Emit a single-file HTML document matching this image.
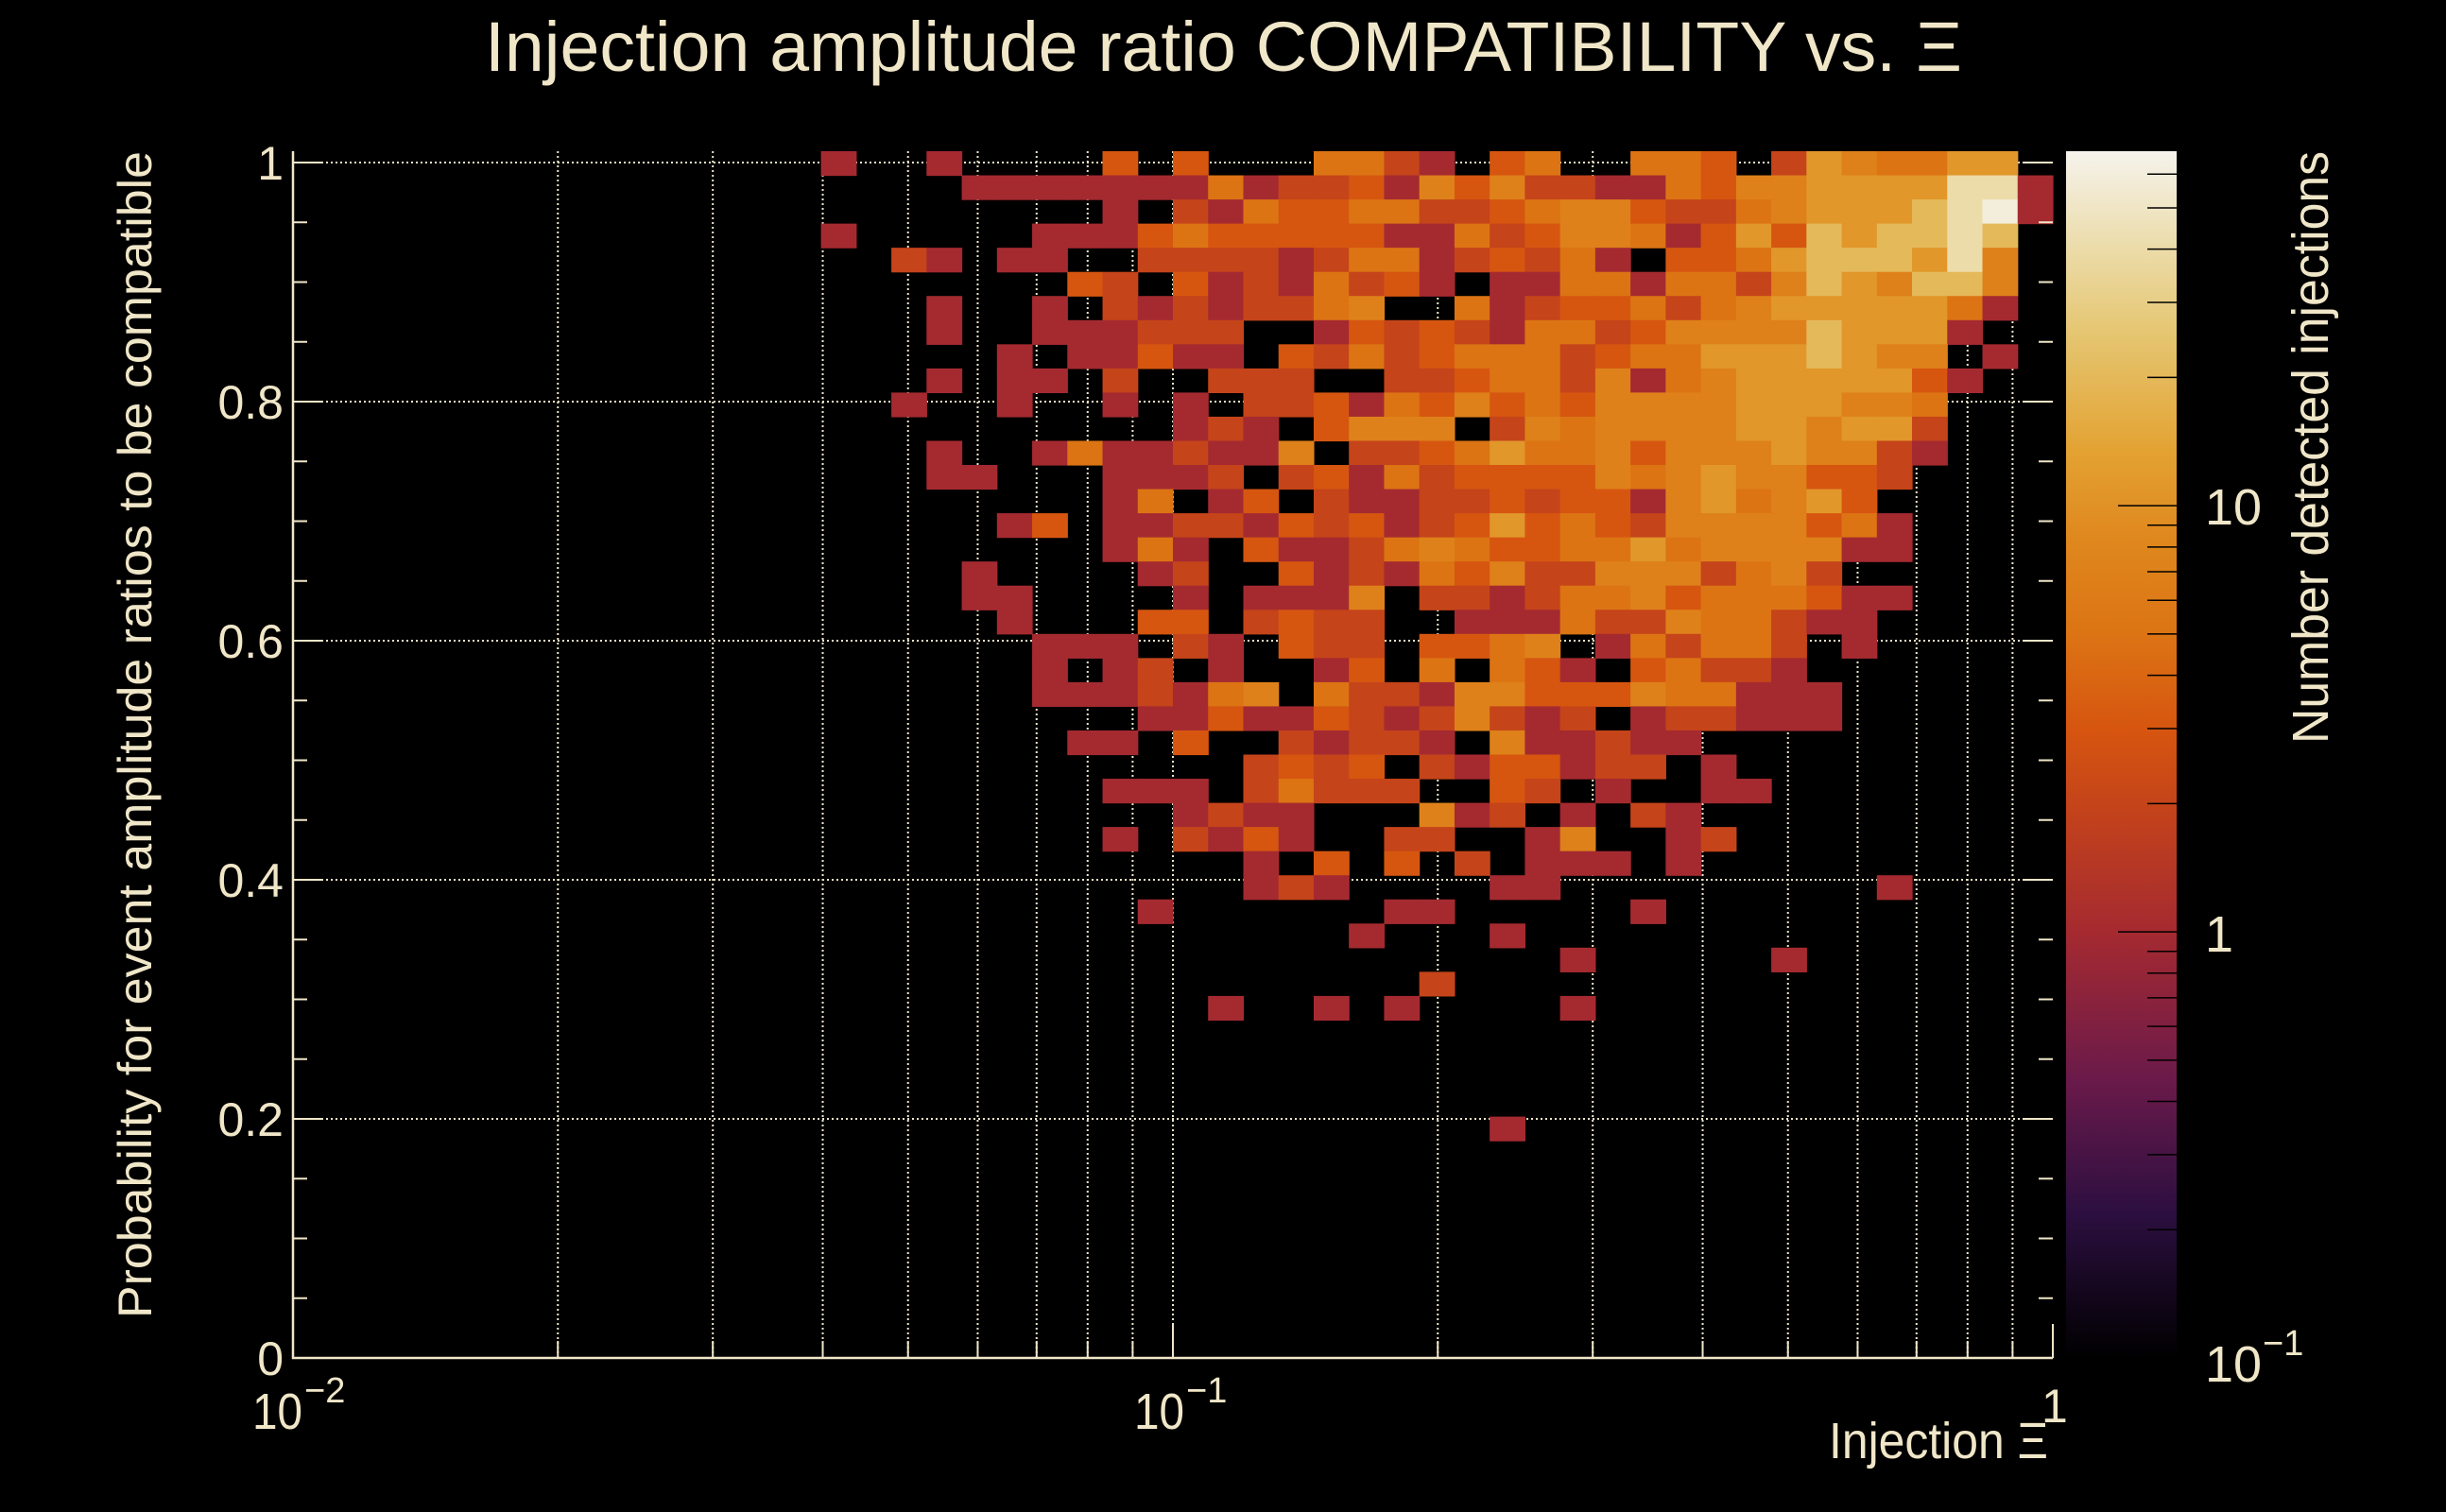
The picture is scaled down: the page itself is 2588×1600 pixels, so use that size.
<!DOCTYPE html>
<html>
<head>
<meta charset="utf-8">
<style>
  html,body{margin:0;padding:0;background:#000;}
  svg{display:block;}
  text{font-family:"Liberation Sans",sans-serif;fill:#f0e6c8;}
</style>
</head>
<body>
<svg id="chart" width="2588" height="1600" viewBox="0 0 2588 1600" xmlns="http://www.w3.org/2000/svg">
  <rect x="0" y="0" width="2588" height="1600" fill="#000"/>
  <defs>
    <linearGradient id="cmap" x1="0" y1="1" x2="0" y2="0">
      <stop offset="0" stop-color="#000000"/>
      <stop offset="0.12" stop-color="#2c0f40"/>
      <stop offset="0.23" stop-color="#6a1a4a"/>
      <stop offset="0.353" stop-color="#a52a30"/>
      <stop offset="0.459" stop-color="#c5441a"/>
      <stop offset="0.52" stop-color="#d65510"/>
      <stop offset="0.6" stop-color="#dc7414"/>
      <stop offset="0.68" stop-color="#df881e"/>
      <stop offset="0.75" stop-color="#e3a232"/>
      <stop offset="0.85" stop-color="#e5c672"/>
      <stop offset="0.92" stop-color="#ecdcaa"/>
      <stop offset="1" stop-color="#f5f3ec"/>
    </linearGradient>
  </defs>
  <g id="grid"></g>
  <g id="cells"></g>
  <g id="axes"></g>
  <rect x="2186" y="160" width="117" height="1277" fill="url(#cmap)"/>
  <g id="cbticks"></g>

  <text x="513" y="75" font-size="74" textLength="1563" lengthAdjust="spacingAndGlyphs">Injection amplitude ratio COMPATIBILITY vs. Ξ</text>
  <text transform="translate(160,1395) rotate(-90)" x="0" y="0" font-size="50" textLength="1235" lengthAdjust="spacingAndGlyphs">Probability for event amplitude ratios to be compatible</text>
  <text x="2167" y="1543" font-size="54" text-anchor="end" textLength="232" lengthAdjust="spacingAndGlyphs">Injection Ξ</text>
  <text transform="translate(2463,787) rotate(-90)" x="0" y="0" font-size="54" textLength="627" lengthAdjust="spacingAndGlyphs">Number detected injections</text>

  <g>
    <text x="267" y="1512" font-size="54" textLength="53" lengthAdjust="spacingAndGlyphs">10</text>
    <text x="322" y="1484" font-size="38">−2</text>
    <text x="1200" y="1512" font-size="54" textLength="53" lengthAdjust="spacingAndGlyphs">10</text>
    <text x="1255" y="1484" font-size="38">−1</text>
    <text x="2160" y="1505" font-size="50">1</text>
  </g>
  <g>
    <text x="2333" y="555" font-size="54">10</text>
    <text x="2333" y="1007" font-size="54">1</text>
    <text x="2333" y="1462" font-size="54">10</text>
    <text x="2394" y="1434" font-size="38">−1</text>
  </g>
  <g id="ylabels"></g>

<script>
// ---------- data ----------
const xBinCount = 50;
const yBinCount = 50;
const firstDataCol = 15;
const yTickValues = [0, 0.2, 0.4, 0.6, 0.8, 1];
const yTickLabels = ["0", "0.2", "0.4", "0.6", "0.8", "1"];
const xGridValues = [0.02,0.03,0.04,0.05,0.06,0.07,0.08,0.09,0.1,0.2,0.3,0.4,0.5,0.6,0.7,0.8,0.9];
const cbMinorValues = [0.2,0.3,0.4,0.5,0.6,0.7,0.8,0.9,2,3,4,5,6,7,8,9,20,30,40,50,60];
const cbMajorValues = [0.1,1,10];
// counts: rows from top (y≈1) downward, columns 15..49
const counts = [
[1,0,0,1,0,0,0,0,3,0,3,0,0,0,5,5,2,1,0,3,5,0,0,5,5,3,0,2,11,7,5,5,11,11,0],
[0,0,0,0,1,1,1,1,1,1,1,5,1,2,2,3,1,7,3,7,2,2,1,1,5,3,7,7,11,11,11,11,40,40,1],
[0,0,0,0,0,0,0,0,1,0,2,1,5,3,3,5,5,2,2,3,5,7,7,3,2,2,5,7,11,11,11,20,40,60,1],
[1,0,0,0,0,0,1,1,1,3,5,3,3,3,3,3,1,1,5,2,3,7,7,5,1,3,11,3,20,11,20,20,40,20,0],
[0,0,2,1,0,1,1,0,0,2,2,2,2,1,2,5,5,1,2,3,2,5,1,0,3,3,5,11,20,20,20,11,40,7,0],
[0,0,0,0,0,0,0,3,2,0,3,1,2,1,5,2,3,1,0,1,1,5,5,1,5,5,2,7,20,11,7,20,20,7,0],
[0,0,0,1,0,0,1,0,2,1,2,1,2,2,5,7,0,0,5,1,2,3,3,5,2,5,7,11,11,11,11,11,5,1,0],
[0,0,0,1,0,0,1,1,1,2,2,2,0,0,1,3,2,3,2,1,5,5,2,3,7,7,7,7,20,11,11,11,1,0,0],
[0,0,0,0,0,1,0,1,1,3,1,1,0,3,2,5,2,3,5,5,5,2,3,5,5,11,11,11,20,11,7,7,0,1,0],
[0,0,0,1,0,1,1,0,2,0,0,2,2,2,0,0,2,2,3,5,5,2,7,1,5,7,11,11,11,11,11,3,1,0,0],
[0,0,1,0,0,1,0,0,1,0,1,0,2,2,3,1,5,3,7,3,5,3,7,7,7,7,11,11,11,7,7,5,0,0,0],
[0,0,0,0,0,0,0,0,0,0,1,2,1,0,3,7,7,7,0,2,7,5,7,7,7,7,11,11,7,11,11,2,0,0,0],
[0,0,0,1,0,0,1,5,1,1,2,1,1,7,0,2,2,3,5,11,5,5,7,3,7,7,7,11,7,7,2,1,0,0,0],
[0,0,0,1,1,0,0,0,1,1,1,2,0,2,3,1,5,2,3,3,3,3,7,5,7,11,7,7,3,3,2,0,0,0,0],
[0,0,0,0,0,0,0,0,1,5,0,1,3,0,2,1,1,2,2,3,2,3,3,1,7,11,5,7,11,3,0,0,0,0,0],
[0,0,0,0,0,1,3,0,1,1,2,2,1,3,2,3,1,2,3,11,3,5,3,2,7,7,7,7,3,5,1,0,0,0,0],
[0,0,0,0,0,0,0,0,1,5,1,0,3,1,1,2,5,7,5,3,3,5,5,11,5,7,7,7,7,1,1,0,0,0,0],
[0,0,0,0,1,0,0,0,0,1,2,0,0,3,1,2,1,5,3,7,2,2,7,7,7,2,5,7,2,0,0,0,0,0,0],
[0,0,0,0,1,1,0,0,0,0,1,0,1,1,1,7,0,2,2,1,2,5,5,7,3,5,5,5,3,1,1,0,0,0,0],
[0,0,0,0,0,1,0,0,0,3,3,0,2,3,2,2,0,0,1,1,1,5,2,2,7,5,5,2,1,1,0,0,0,0,0],
[0,0,0,0,0,0,1,1,1,0,2,1,0,3,2,2,0,3,3,5,7,0,1,5,2,5,5,2,0,1,0,0,0,0,0],
[0,0,0,0,0,0,1,0,1,2,0,1,0,0,1,3,0,5,0,5,3,1,0,3,5,2,2,1,0,0,0,0,0,0,0],
[0,0,0,0,0,0,1,1,1,2,1,5,7,0,5,2,2,1,7,7,3,3,3,7,5,5,1,1,1,0,0,0,0,0,0],
[0,0,0,0,0,0,0,0,0,1,1,3,1,1,3,2,1,2,7,2,1,2,0,1,2,2,1,1,1,0,0,0,0,0,0],
[0,0,0,0,0,0,0,1,1,0,3,0,0,2,1,2,2,1,0,7,1,1,2,1,1,0,0,0,0,0,0,0,0,0,0],
[0,0,0,0,0,0,0,0,0,0,0,0,2,3,2,3,0,2,1,3,3,1,2,2,0,1,0,0,0,0,0,0,0,0,0],
[0,0,0,0,0,0,0,0,1,1,1,0,2,5,2,2,2,0,0,3,2,0,1,0,0,1,1,0,0,0,0,0,0,0,0],
[0,0,0,0,0,0,0,0,0,0,1,2,1,1,0,0,0,7,1,2,0,1,0,2,1,0,0,0,0,0,0,0,0,0,0],
[0,0,0,0,0,0,0,0,1,0,2,1,3,1,0,0,2,2,0,0,1,7,0,0,1,2,0,0,0,0,0,0,0,0,0],
[0,0,0,0,0,0,0,0,0,0,0,0,1,0,3,0,3,0,2,0,1,1,1,0,1,0,0,0,0,0,0,0,0,0,0],
[0,0,0,0,0,0,0,0,0,0,0,0,1,2,1,0,0,0,0,1,1,0,0,0,0,0,0,0,0,0,1,0,0,0,0],
[0,0,0,0,0,0,0,0,0,1,0,0,0,0,0,0,1,1,0,0,0,0,0,1,0,0,0,0,0,0,0,0,0,0,0],
[0,0,0,0,0,0,0,0,0,0,0,0,0,0,0,1,0,0,0,1,0,0,0,0,0,0,0,0,0,0,0,0,0,0,0],
[0,0,0,0,0,0,0,0,0,0,0,0,0,0,0,0,0,0,0,0,0,1,0,0,0,0,0,1,0,0,0,0,0,0,0],
[0,0,0,0,0,0,0,0,0,0,0,0,0,0,0,0,0,2,0,0,0,0,0,0,0,0,0,0,0,0,0,0,0,0,0],
[0,0,0,0,0,0,0,0,0,0,0,1,0,0,1,0,1,0,0,0,0,1,0,0,0,0,0,0,0,0,0,0,0,0,0],
[0,0,0,0,0,0,0,0,0,0,0,0,0,0,0,0,0,0,0,0,0,0,0,0,0,0,0,0,0,0,0,0,0,0,0],
[0,0,0,0,0,0,0,0,0,0,0,0,0,0,0,0,0,0,0,0,0,0,0,0,0,0,0,0,0,0,0,0,0,0,0],
[0,0,0,0,0,0,0,0,0,0,0,0,0,0,0,0,0,0,0,0,0,0,0,0,0,0,0,0,0,0,0,0,0,0,0],
[0,0,0,0,0,0,0,0,0,0,0,0,0,0,0,0,0,0,0,0,0,0,0,0,0,0,0,0,0,0,0,0,0,0,0],
[0,0,0,0,0,0,0,0,0,0,0,0,0,0,0,0,0,0,0,1,0,0,0,0,0,0,0,0,0,0,0,0,0,0,0]
];

// ---------- axes / scales ----------
const NS = "http://www.w3.org/2000/svg";
const PL = 310, PR = 2172, PB = 1437, PT = 160;
const yPerUnit = 1265;
const yRangeMax = (PB - PT) / yPerUnit;
const yBinW = yRangeMax / yBinCount;
function X(v){ return PL + (Math.log10(v) + 2) / 2 * (PR - PL); }
function Y(v){ return PB - v * yPerUnit; }
function xEdge(i){ return Math.pow(10, -2 + 2 * i / xBinCount); }
const zMinLog = -1, zLogSpan = 2.832;
function CY(c){ return PB - (Math.log10(c) - zMinLog) / zLogSpan * (PB - PT); }

const stops = [[0,[0,0,0]],[0.12,[0x2c,0x0f,0x40]],[0.23,[0x6a,0x1a,0x4a]],[0.353,[0xa5,0x2a,0x30]],
  [0.459,[0xc5,0x44,0x1a]],[0.52,[0xd6,0x55,0x10]],[0.6,[0xdc,0x74,0x14]],[0.68,[0xdf,0x88,0x1e]],
  [0.75,[0xe3,0xa2,0x32]],[0.85,[0xe5,0xc6,0x72]],[0.92,[0xec,0xdc,0xaa]],[1,[0xf5,0xf3,0xec]]];
function color(c){
  let f = (Math.log10(c) - zMinLog) / zLogSpan;
  f = Math.max(0, Math.min(1, f));
  for (let i = 1; i < stops.length; i++){
    if (f <= stops[i][0]){
      const a = stops[i-1], b = stops[i];
      const t = (f - a[0]) / (b[0] - a[0]);
      const rgb = a[1].map((v,k)=>Math.round(v + (b[1][k]-v)*t));
      return "rgb(" + rgb.join(",") + ")";
    }
  }
  return "rgb(245,243,236)";
}

// ---------- grid ----------
const grid = document.getElementById("grid");
xGridValues.forEach(v => {
  const l = document.createElementNS(NS, "line");
  l.setAttribute("x1", X(v)); l.setAttribute("x2", X(v));
  l.setAttribute("y1", PT); l.setAttribute("y2", PB);
  l.setAttribute("stroke", "#f0e6c8"); l.setAttribute("stroke-width", "2"); l.setAttribute("stroke-dasharray", "2 3");
  
  
  grid.appendChild(l);
});
yTickValues.forEach(v => {
  if (v === 0) return;
  const l = document.createElementNS(NS, "line");
  l.setAttribute("x1", PL); l.setAttribute("x2", PR);
  l.setAttribute("y1", Y(v)); l.setAttribute("y2", Y(v));
  l.setAttribute("stroke", "#f0e6c8"); l.setAttribute("stroke-width", "2"); l.setAttribute("stroke-dasharray", "2 3");
  
  
  grid.appendChild(l);
});

// ---------- cells ----------
const cellsG = document.getElementById("cells");
counts.forEach((row, r) => {
  const bin = yBinCount - 1 - r;
  const y0 = Y((bin + 1) * yBinW), y1 = Y(bin * yBinW);
  row.forEach((c, k) => {
    if (!c) return;
    const col = firstDataCol + k;
    const x0 = X(xEdge(col)), x1 = X(xEdge(col + 1));
    const rect = document.createElementNS(NS, "rect");
    rect.setAttribute("x", x0.toFixed(2));
    rect.setAttribute("y", y0.toFixed(2));
    rect.setAttribute("width", (x1 - x0 + 0.6).toFixed(2));
    rect.setAttribute("height", (y1 - y0 + 0.6).toFixed(2));
    rect.setAttribute("fill", color(c));
    
    
    cellsG.appendChild(rect);
  });
});

// ---------- axes ----------
const axes = document.getElementById("axes");
function line(x1,y1,x2,y2,w,parent,name){
  const l = document.createElementNS(NS, "line");
  l.setAttribute("x1",x1); l.setAttribute("y1",y1); l.setAttribute("x2",x2); l.setAttribute("y2",y2);
  l.setAttribute("stroke","#f0e6c8"); l.setAttribute("stroke-width",w);
  
  
  parent.appendChild(l);
  return l;
}
line(PL, PT, PL, PB + 1, 2.5, axes, "y-axis-line");
line(PL - 1, PB, PR, PB, 2.5, axes, "x-axis-line");
for (let i = 0; i <= 20; i++){
  const v = i * 0.05;
  const len = (i % 4 === 0) ? 30 : 15;
  line(PL, Y(v), PL + len, Y(v), 2, axes, "y-tick");
  line(PR, Y(v), PR - len, Y(v), 2, axes, "y-tick-right");
}
[0.01,0.1,1].forEach(v => line(X(v), PB, X(v), PB - 36, 2, axes, "x-major-tick"));
xGridValues.forEach(v => line(X(v), PB, X(v), PB - 18, 2, axes, "x-minor-tick"));

// y tick labels
const ylabels = document.getElementById("ylabels");
yTickValues.forEach((v, i) => {
  const t = document.createElementNS(NS, "text");
  t.setAttribute("x", 300); t.setAttribute("y", Y(v) + 18);
  t.setAttribute("font-size", "50"); t.setAttribute("text-anchor", "end");
  t.textContent = yTickLabels[i];
  
  
  ylabels.appendChild(t);
});

// colorbar ticks
const cbt = document.getElementById("cbticks");
function cbLine(y, len, name){
  const l = document.createElementNS(NS, "line");
  l.setAttribute("x1", 2303 - len); l.setAttribute("x2", 2303);
  l.setAttribute("y1", y); l.setAttribute("y2", y);
  l.setAttribute("stroke", "#000"); l.setAttribute("stroke-width", "1.5");
  
  
  cbt.appendChild(l);
}
cbMajorValues.forEach(v => cbLine(CY(v), 62, "colorbar-major-tick"));
cbMinorValues.forEach(v => cbLine(CY(v), 31, "colorbar-minor-tick"));
</script>
</svg>
</body>
</html>
